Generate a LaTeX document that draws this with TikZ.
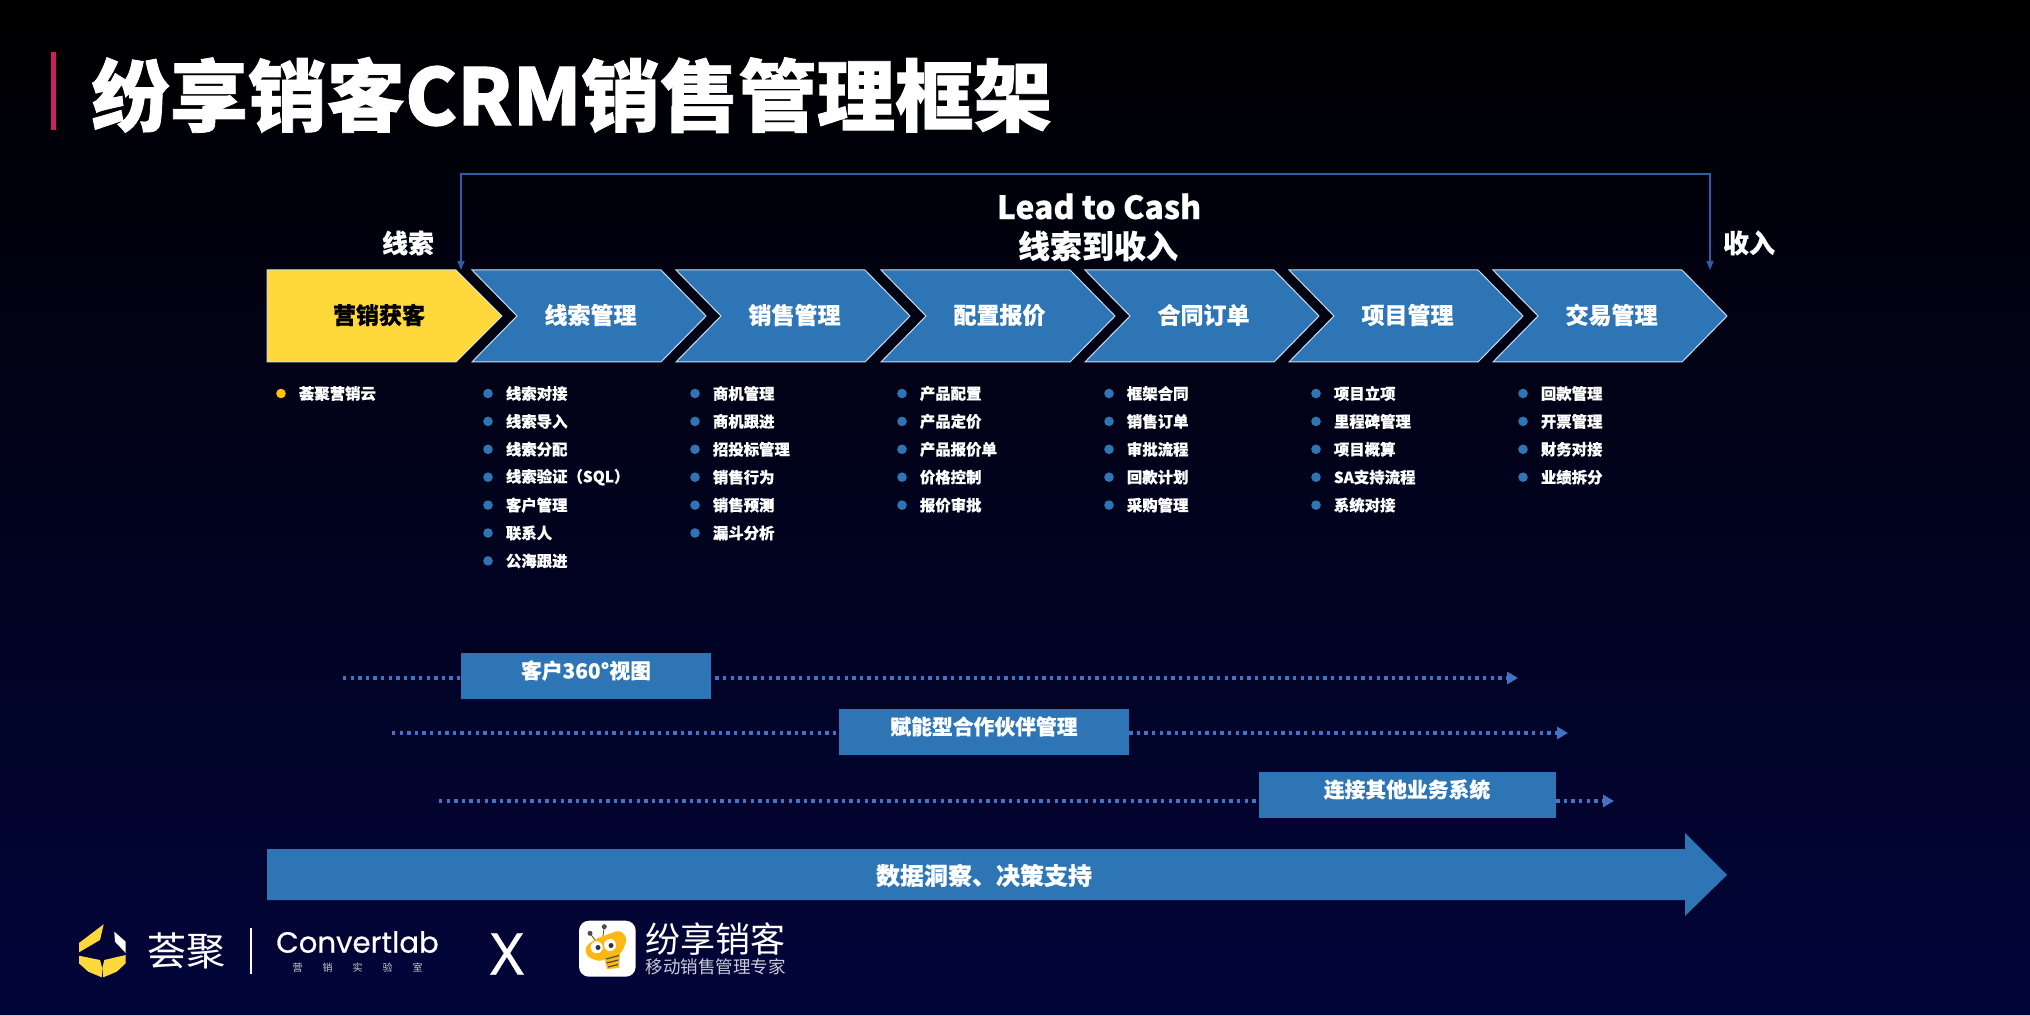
\documentclass[tikz,border=0pt]{standalone}
\usepackage{fontspec}
\setmainfont{Noto Sans CJK SC}[BoldFeatures={FakeBold=0.3}]
\newfontfamily\heavyfont{Noto Sans CJK SC}[BoldFeatures={FakeBold=1}]
\newfontfamily\logofont{Poppins}[FakeBold=0.5]
\newfontfamily\xfont{Noto Sans}[FakeBold=0.4]
\usetikzlibrary{arrows.meta}
\definecolor{barblue}{HTML}{2E75B6}
\definecolor{lineblue}{HTML}{4472C4}
\definecolor{bracketblue}{HTML}{2F5BA8}
\definecolor{leadyellow}{HTML}{FFD93B}
\definecolor{dotyellow}{HTML}{FFC000}
\definecolor{beeyellow}{HTML}{FDB813}
\definecolor{navy}{HTML}{02053A}
\definecolor{softgrey}{HTML}{C9CBD6}
\definecolor{titlered}{HTML}{C9215F}
\tikzset{
   chevron/.style={draw=white!75!barblue,line width=0.5pt,fill=barblue},
   headtext/.style={text=white,font=\bfseries\fontsize{11.5}{12}\selectfont,inner sep=0},
   sidetext/.style={text=white,font=\bfseries\fontsize{13}{14}\selectfont,inner sep=0},
   itemtext/.style={text=white,anchor=west,font=\bfseries\fontsize{7.7}{8}\selectfont,inner sep=0},
   itemdot/.style={circle,fill=barblue,minimum size=4.8pt,inner sep=0},
   bandbox/.style={fill=barblue,inner sep=0},
   bandtext/.style={text=white,font=\bfseries\fontsize{10.4}{11}\selectfont,inner sep=0},
   bandline/.style={lineblue,line width=2pt,dash pattern=on 1.65pt off 2.15pt,
      -{Triangle[length=5.5pt,width=6pt]}},
   logotext/.style={text=white,inner sep=0},
}
\begin{document}
\begin{tikzpicture}[x=0.5pt,y=-0.5pt]
   % background
   \shade[top color=black,bottom color=navy] (0,0) rectangle (2030,1016);
   \fill[softgrey] (0,1015) rectangle (2030,1016);

   % title
   \fill[titlered] (50.5,52) rectangle (56,130);
   \node[anchor=west,text=white,inner sep=0,font=\heavyfont\bfseries\fontsize{39.2}{40}\selectfont] (title)
   at (91,95) {纷享销客CRM销售管理框架};

   % lead to cash
   \coordinate (lead) at (461,270);
   \coordinate (cash) at (1710,270);
   \draw[bracketblue,line width=0.6pt,{Triangle[length=4.5pt,width=3.5pt]}-{Triangle[length=4.5pt,width=3.5pt]}]
   (lead) -- (461,174) -- (1710,174) -- (cash);
   \node[sidetext,font=\bfseries\fontsize{16}{17}\selectfont] (leadcash) at (1099,206.5) {Lead to Cash};
   \node[sidetext,font=\bfseries\fontsize{16}{17}\selectfont] (leadcashcn) at (1098,246) {线索到收入};
   \node[sidetext] (leadlabel) at (408,243) {线索};
   \node[sidetext] (cashlabel) at (1749,243) {收入};

   % process chevrons
   \draw[chevron,fill=leadyellow] (267,270) -- (456,270) -- (502,316) -- (456,362) -- (267,362) -- cycle;
   \node[headtext,text=black] (market) at (379,315) {营销获客};
   \foreach \x/\name/\title in {472/clue/线索管理,676/sale/销售管理,881/quote/配置报价,
      1085/order/合同订单,1289/project/项目管理,1493/deal/交易管理} {
      \draw[chevron] (\x,270) -- ++(189,0) -- ++(45,46) -- ++(-45,46) -- ++(-189,0) -- ++(45,-46) -- cycle;
      \node[headtext] (\name) at (\x+118.5,315) {\title};
   }

   % item lists
   \node[itemdot,fill=dotyellow] (marketdot) at (281,393.5) {};
   \node[itemtext] (marketitem) at (298.5,393.5) {荟聚营销云};
   \foreach \name/\dotx/\entries in {
      clue/488/{线索对接,线索导入,线索分配,线索验证（SQL）,客户管理,联系人,公海跟进},
      sale/695/{商机管理,商机跟进,招投标管理,销售行为,销售预测,漏斗分析},
      quote/902/{产品配置,产品定价,产品报价单,价格控制,报价审批},
      order/1109/{框架合同,销售订单,审批流程,回款计划,采购管理},
      project/1316/{项目立项,里程碑管理,项目概算,SA支持流程,系统对接},
      deal/1523/{回款管理,开票管理,财务对接,业绩拆分}} {
      \foreach \entry [count=\row] in \entries {
         \node[itemdot] (\name dot\row) at (\dotx,{393.5+27.9*(\row-1)}) {};
         \node[itemtext] (\name item\row) at (\dotx+17.5,{393.5+27.9*(\row-1)}) {\entry};
      }
   }

   % cross-cutting bands
   \coordinate (viewstart) at (343,678);
   \coordinate (viewend) at (1518,678);
   \coordinate (partnerstart) at (392,733);
   \coordinate (partnerend) at (1568,733);
   \coordinate (linkstart) at (439,801);
   \coordinate (linkend) at (1614,801);
   \draw[bandline] (viewstart) -- (viewend);
   \draw[bandline] (partnerstart) -- (partnerend);
   \draw[bandline] (linkstart) -- (linkend);
   \fill[bandbox] (461,653) rectangle (711,699);
   \fill[bandbox] (839,709) rectangle (1129,755);
   \fill[bandbox] (1259,772) rectangle (1556,818);
   \node[bandtext] (view) at (586,670.5) {客户360°视图};
   \node[bandtext] (partner) at (984,726.5) {赋能型合作伙伴管理};
   \node[bandtext] (link) at (1407,789.5) {连接其他业务系统};

   % data arrow
   \fill[barblue] (267,849) -- (1685,849) -- (1685,833) -- (1727,875) -- (1685,916) -- (1685,900) -- (267,900) -- cycle;
   \node[bandtext,font=\bfseries\fontsize{12}{13}\selectfont] (insight) at (984,875.5) {数据洞察、决策支持};

   % convertlab logo
   \fill[leadyellow] (103.7,924.3) -- (79,943) -- (79,952.3) -- (100,940) -- cycle;
   \fill[white] (114.3,931.7) -- (125.7,941.7) -- (125.7,953) -- (115,941.7) -- cycle;
   \fill[leadyellow] (79,955.7) -- (100,960) -- (102.3,968.3) -- (101.7,977.3) -- (88.3,971.7) -- (79,963.3) -- cycle;
   \fill[leadyellow] (125.7,955) -- (104.3,960) -- (102.3,968.3) -- (103.3,977.3) -- (116.7,971.7) -- (125.7,963.3) -- cycle;
   \node[logotext,font=\fontsize{19.5}{20}\selectfont] (huiju) at (186.7,950.5) {荟聚};
   \draw[white,line width=0.7pt] (251,928) -- (251,974);
   \node[logotext,font=\logofont\fontsize{14.6}{15}\selectfont] (convertlab) at (357.5,942) {Convertlab};
   \node[logotext,text=softgrey,font=\fontsize{5}{6}\selectfont] (lab) at (357.5,968)
   {营\hspace{10pt}销\hspace{10pt}实\hspace{10pt}验\hspace{10pt}室};

   \node[logotext,font=\xfont\fontsize{29}{30}\selectfont] (cross) at (507,954) {X};

   % bee logo
   \fill[white,rounded corners=5pt] (579,920.7) rectangle (635.7,976.7);
   \draw[black!70,line width=0.4pt] (590,933.3) -- (595,940);
   \draw[black!70,line width=0.4pt] (604.3,926.7) -- (603,936);
   \fill[black!70] (590,933.3) circle (2.5);
   \fill[black!70] (604.3,926.7) circle (2.5);
   \fill[beeyellow] (604,956) -- (620,951) -- (619,968) -- (607,969) -- cycle;
   \fill[beeyellow,rounded corners=2pt] (585,946.7) -- (596.7,938.3) -- (620,930) -- (627.3,938.3)
   -- (621.7,953.3) -- (613,955) -- (600,961.7) -- (586.7,956.7) -- cycle;
   \draw[black!70,line width=0.6pt] (606,959) -- (619,955.5) (606.5,963) -- (618.5,960) (608,967) -- (618,964.5);
   \fill[white] (596.7,947.3) circle (6);
   \fill[white] (610,945) circle (6);
   \fill[black!80] (598,947.5) circle (2.5);
   \fill[black!80] (611,945.5) circle (2.5);
   \node[logotext,font=\fontsize{17.5}{18}\selectfont] (fxname) at (715.5,939.5) {纷享销客};
   \node[logotext,text=softgrey,font=\fontsize{8.75}{9}\selectfont] (fxslogan) at (715.5,966.7) {移动销售管理专家};
\end{tikzpicture}
\end{document}
